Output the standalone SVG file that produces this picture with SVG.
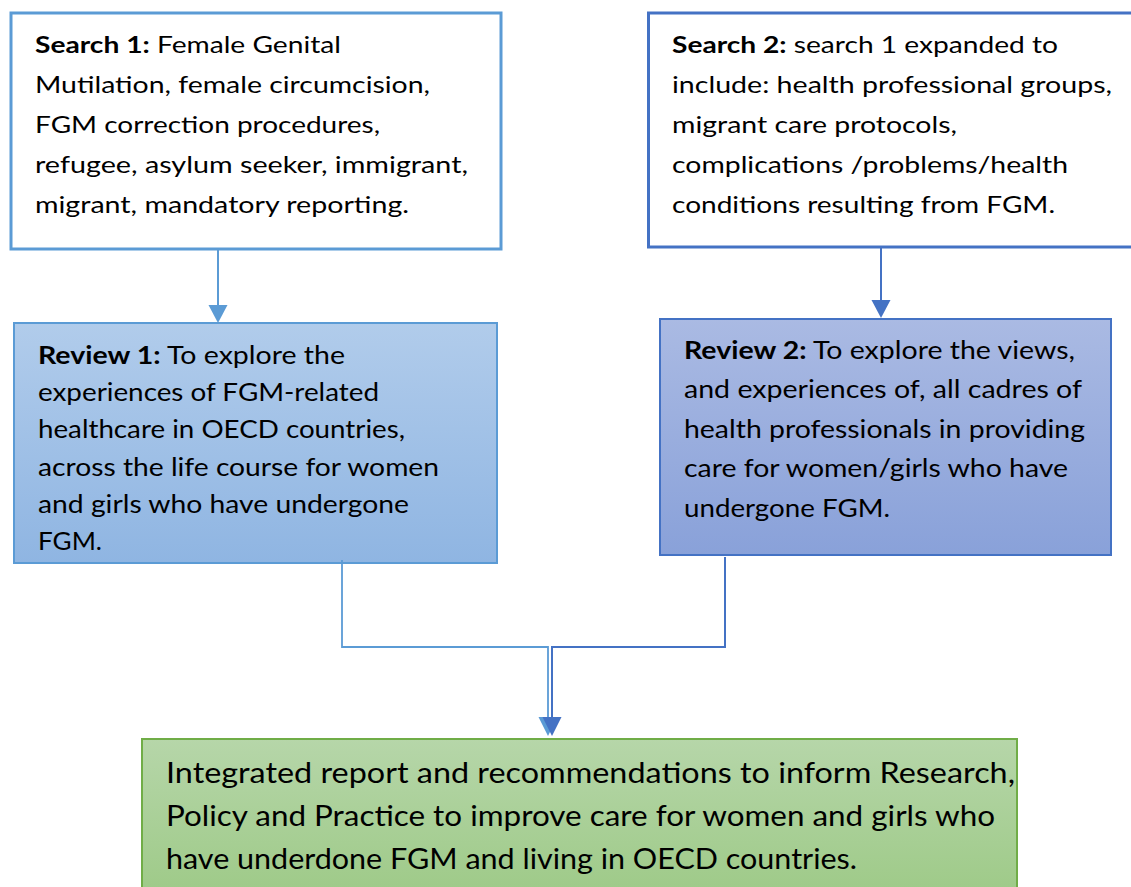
<svg xmlns="http://www.w3.org/2000/svg" width="1131" height="887" viewBox="0 0 1131 887">
<style>
.t{font-family:Lato,"Open Sans","Liberation Sans",sans-serif;fill:#000}
.b{font-weight:bold}
</style>
<defs>
<linearGradient id="g1" x1="0" y1="0" x2="0" y2="1"><stop offset="0" stop-color="#b1cceb"/><stop offset="1" stop-color="#8fb5e2"/></linearGradient>
<linearGradient id="g2" x1="0" y1="0" x2="0" y2="1"><stop offset="0" stop-color="#aabae3"/><stop offset="1" stop-color="#89a1d9"/></linearGradient>
<linearGradient id="g3" x1="0" y1="0" x2="0" y2="1"><stop offset="0" stop-color="#b6d6a9"/><stop offset="1" stop-color="#9cc985"/></linearGradient>
</defs>
<rect width="1131" height="887" fill="#fff"/>
<g id="search1">
<rect x="11" y="13" width="490" height="236" fill="#fff" stroke="#5b9bd5" stroke-width="3"/>
<text class="t" font-size="22.5"><tspan x="35" y="53" textLength="306" lengthAdjust="spacingAndGlyphs"><tspan class="b">Search 1:</tspan> Female Genital</tspan></text>
<text class="t" font-size="22.5" x="35" y="93" textLength="395" lengthAdjust="spacingAndGlyphs">Mutilation, female circumcision,</text>
<text class="t" font-size="22.5" x="35" y="133" textLength="345" lengthAdjust="spacingAndGlyphs">FGM correction procedures,</text>
<text class="t" font-size="22.5" x="35" y="173" textLength="433" lengthAdjust="spacingAndGlyphs">refugee, asylum seeker, immigrant,</text>
<text class="t" font-size="22.5" x="35" y="213" textLength="374" lengthAdjust="spacingAndGlyphs">migrant, mandatory reporting.</text>
</g>
<g id="search2">
<rect x="648.5" y="13" width="490" height="234" fill="#fff" stroke="#4472c4" stroke-width="3"/>
<text class="t" font-size="22.5"><tspan x="672" y="53" textLength="386" lengthAdjust="spacingAndGlyphs"><tspan class="b">Search 2:</tspan> search 1 expanded to</tspan></text>
<text class="t" font-size="22.5" x="672" y="93" textLength="440" lengthAdjust="spacingAndGlyphs">include: health professional groups,</text>
<text class="t" font-size="22.5" x="672" y="133" textLength="285" lengthAdjust="spacingAndGlyphs">migrant care protocols,</text>
<text class="t" font-size="22.5" x="672" y="173" textLength="396" lengthAdjust="spacingAndGlyphs">complications /problems/health</text>
<text class="t" font-size="22.5" x="672" y="213" textLength="383" lengthAdjust="spacingAndGlyphs">conditions resulting from FGM.</text>
</g>
<g id="review1">
<rect x="14" y="323" width="483" height="240" fill="url(#g1)" stroke="#5b9bd5" stroke-width="2"/>
<text class="t" font-size="24.5"><tspan x="38" y="364" textLength="307" lengthAdjust="spacingAndGlyphs"><tspan class="b">Review 1:</tspan> To explore the</tspan></text>
<text class="t" font-size="24.5" x="38" y="401" textLength="341" lengthAdjust="spacingAndGlyphs">experiences of FGM-related</text>
<text class="t" font-size="24.5" x="38" y="438" textLength="367" lengthAdjust="spacingAndGlyphs">healthcare in OECD countries,</text>
<text class="t" font-size="24.5" x="38" y="476" textLength="401" lengthAdjust="spacingAndGlyphs">across the life course for women</text>
<text class="t" font-size="24.5" x="38" y="513" textLength="371" lengthAdjust="spacingAndGlyphs">and girls who have undergone</text>
<text class="t" font-size="24.5" x="38" y="550" textLength="64" lengthAdjust="spacingAndGlyphs">FGM.</text>
</g>
<g id="review2">
<rect x="660" y="319" width="451" height="236" fill="url(#g2)" stroke="#4472c4" stroke-width="2"/>
<text class="t" font-size="24.5"><tspan x="684" y="359" textLength="391" lengthAdjust="spacingAndGlyphs"><tspan class="b">Review 2:</tspan> To explore the views,</tspan></text>
<text class="t" font-size="24.5" x="684" y="398" textLength="398" lengthAdjust="spacingAndGlyphs">and experiences of, all cadres of</text>
<text class="t" font-size="24.5" x="684" y="438" textLength="401" lengthAdjust="spacingAndGlyphs">health professionals in providing</text>
<text class="t" font-size="24.5" x="684" y="477" textLength="384" lengthAdjust="spacingAndGlyphs">care for women/girls who have</text>
<text class="t" font-size="24.5" x="684" y="517" textLength="206" lengthAdjust="spacingAndGlyphs">undergone FGM.</text>
</g>
<g id="final">
<rect x="142" y="739" width="875" height="170" fill="url(#g3)" stroke="#70ad47" stroke-width="2"/>
<text class="t" font-size="29" x="166" y="783" textLength="849" lengthAdjust="spacingAndGlyphs">Integrated report and recommendations to inform Research,</text>
<text class="t" font-size="29" x="166" y="826" textLength="829" lengthAdjust="spacingAndGlyphs">Policy and Practice to improve care for women and girls who</text>
<text class="t" font-size="29" x="166" y="869" textLength="691" lengthAdjust="spacingAndGlyphs">have underdone FGM and living in OECD countries.</text>
</g>
<g id="connectors" fill="none">
<line x1="218" y1="250" x2="218" y2="307" stroke="#5b9bd5" stroke-width="2"/>
<polygon points="208.5,305 227.5,305 218,323" fill="#5b9bd5"/>
<line x1="881" y1="248" x2="881" y2="302" stroke="#4472c4" stroke-width="2"/>
<polygon points="871.5,300 890.5,300 881,318" fill="#4472c4"/>
<polyline points="342,560 342,647 548,647 548,720" stroke="#5b9bd5" stroke-width="1.8"/>
<polyline points="725,557 725,647 552,647 552,720" stroke="#4472c4" stroke-width="2"/>
<polygon points="538.5,717 557.5,717 548,736" fill="#5b9bd5"/>
<polygon points="542.5,717 561.5,717 552,736" fill="#4472c4"/>
</g>
</svg>
